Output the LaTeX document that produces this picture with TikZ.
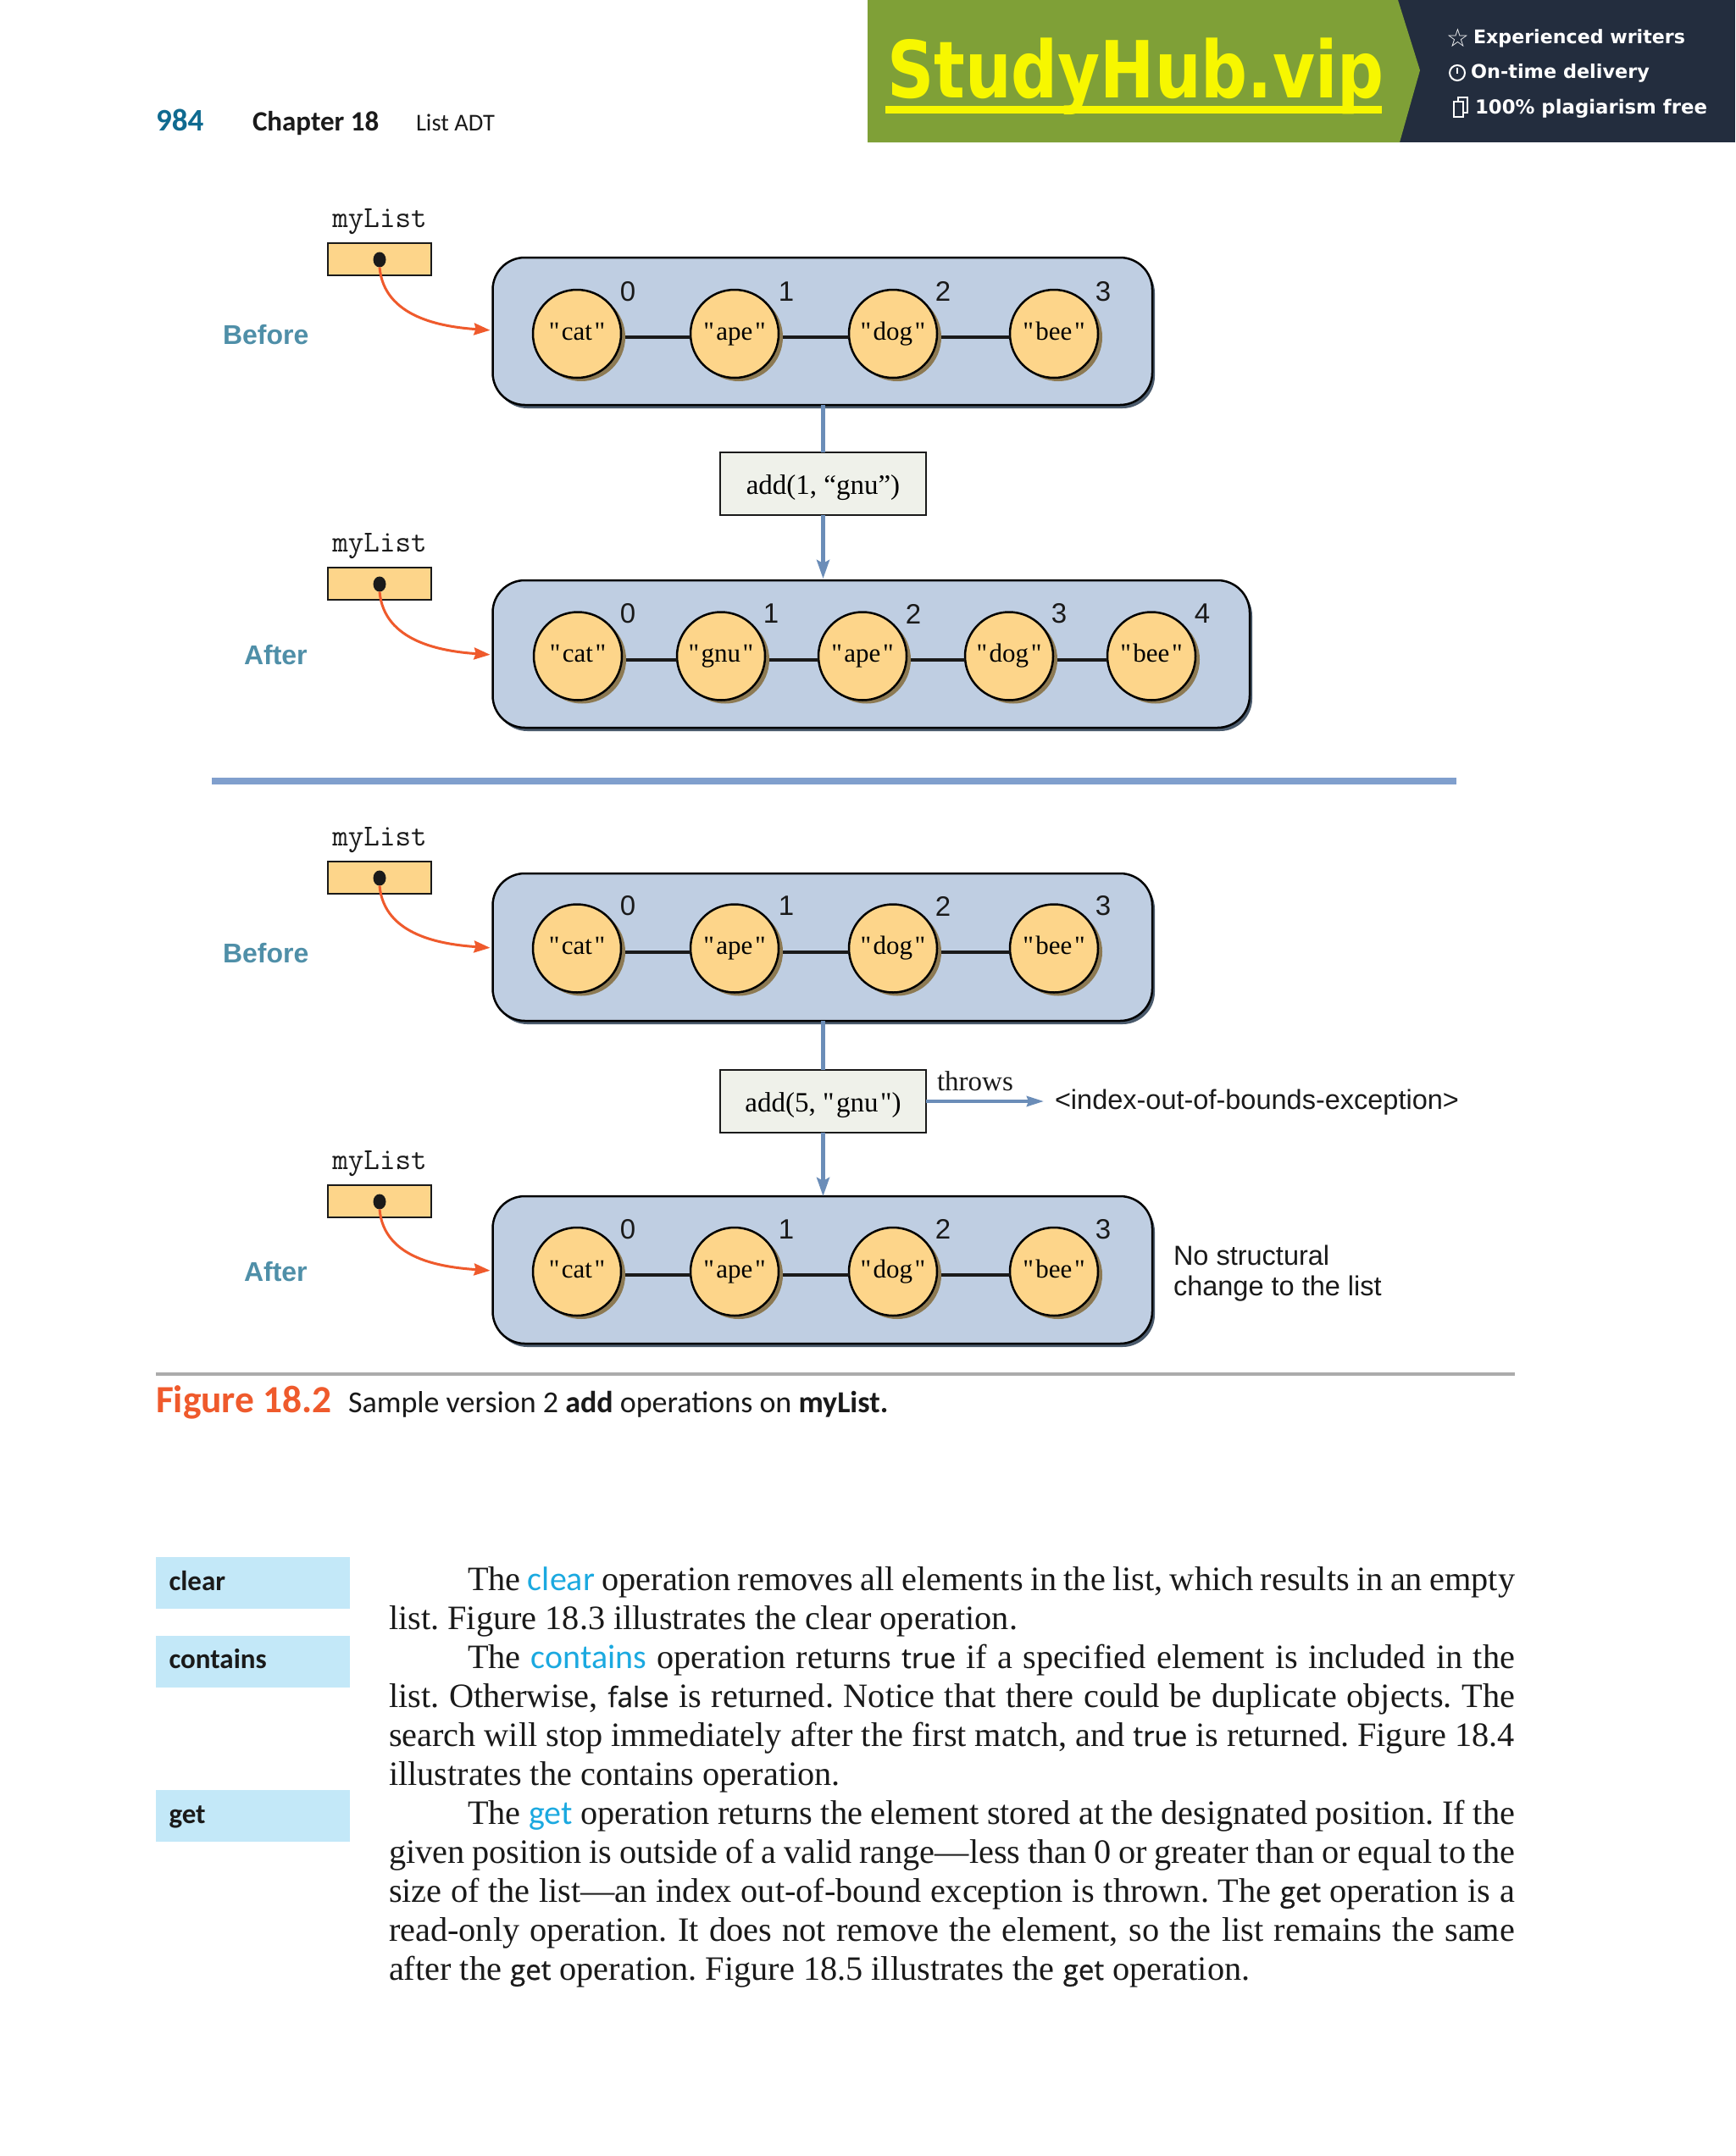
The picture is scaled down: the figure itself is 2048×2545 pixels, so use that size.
\documentclass[tikz,border=0pt]{standalone}
\usepackage{fontspec}
\usepackage{graphicx}
\usetikzlibrary{arrows.meta,shadows}
\newfontfamily\srf{Liberation Serif}
\newfontfamily\hlv{Liberation Sans}
\newfontfamily\crl{Carlito}
\newfontfamily\opn[FakeBold=0.5]{Open Sans}
\newfontfamily\dvb{DejaVu Sans Bold}
\newfontfamily\dvs{DejaVu Sans}
\newcommand\fsz[1]{\fontsize{#1}{#1}\selectfont}
\definecolor{boxfill}{HTML}{FDD58A}
\definecolor{listfill}{HTML}{BFCEE2}
\definecolor{opfill}{HTML}{EFF1EA}
\definecolor{flowblue}{HTML}{6B8DB8}
\definecolor{divblue}{HTML}{809FCD}
\definecolor{ptrred}{HTML}{EF5A2C}
\definecolor{tealtxt}{HTML}{4F8FA8}
\definecolor{keyblue}{HTML}{1BA9E0}
\definecolor{sidebar}{HTML}{C3E8F8}
\definecolor{ink}{HTML}{1A1A1A}
\definecolor{circshadow}{HTML}{8D7A53}
\definecolor{listshadow}{HTML}{4A5A6C}
\definecolor{bannergreen}{HTML}{7FA037}
\definecolor{bannerdark}{HTML}{232D3E}
\definecolor{bannerye}{HTML}{F7F700}
\definecolor{pagenum}{HTML}{0F6A90}
\tikzset{
  x=1pt,y=-1pt,
  txt/.style={inner sep=0pt,outer sep=0pt,text=ink,anchor=base west},
  elem/.style={circle,draw=black,line width=2.5pt,fill=boxfill,minimum size=104pt,inner sep=0pt,outer sep=0pt,
     text height=14pt,text depth=0pt,font=\srf\fsz{31},
     drop shadow={shadow xshift=5pt,shadow yshift=-4pt,opacity=1,fill=circshadow}},
  listbox/.style={rectangle,draw=black,line width=2.5pt,fill=listfill,rounded corners=38pt,anchor=north west,
     minimum height=174pt,inner sep=0pt,outer sep=0pt,
     drop shadow={shadow xshift=3pt,shadow yshift=-4pt,opacity=1,fill=listshadow}},
  varbox/.style={rectangle,draw=ink,line width=2.5pt,fill=boxfill,minimum width=122pt,minimum height=38pt,anchor=north west,inner sep=0pt,outer sep=0pt},
  dotnode/.style={ellipse,fill=ink,inner sep=0pt,minimum width=15pt,minimum height=18pt,outer sep=0pt},
  opbox/.style={rectangle,draw=ink,line width=2.5pt,fill=opfill,minimum width=243pt,minimum height=74pt,inner sep=0pt,outer sep=0pt,
     font=\srf\fsz{33},text height=24pt,text depth=0pt},
  ptr/.style={draw=ptrred,line width=3pt,-{Stealth[length=19pt,width=14pt,inset=2pt]}},
  flow/.style={draw=flowblue,line width=5pt},
  flowtip/.style={flow,-{Stealth[length=22pt,width=15pt,inset=4pt]}},
  linkline/.style={draw=ink,line width=4pt},
  sidebox/.style={rectangle,fill=sidebar,minimum width=229pt,minimum height=61pt,anchor=north west,inner sep=0pt,outer sep=0pt},
  idx/.style={inner sep=0pt,outer sep=0pt,text=ink,font=\hlv\fsz{33}},
}
\usetikzlibrary{shapes.geometric}
% variable box, its label and pointer: id, box top, label, label x, label baseline, tip y
\newcommand\vargrp[6]{%
  \node[txt,anchor=base] (#1name) at (448,#2-19) {\ttfamily\fsz{36}myList};
  \node[varbox] (#1var) at (387,#2) {};
  \node[dotnode] (#1dot) at (448,#2+19.5) {};
  \node[txt] (#1lab) at (#4,#5+1) {\hlv\bfseries\fsz{32}\textcolor{tealtxt}{#3}};
  \coordinate (#1tip) at (581.5,#6);
  \draw[ptr,shorten >=3pt] (#1dot.south) to[out=-85,in=176] (#1tip);
}
\newcommand\lst[3]{\node[listbox,minimum width=#3-581.5] (#1) at (581.5,#2) {};}
% id, number, centre x, centre y, word, index x, index label
\newcommand\elt[7]{%
  \node[elem] (#1e#2) at (#3,#4) {"\kern2.5pt#5\kern2.5pt"};
  \node[idx] (#1i#2) at (#6,#4-50) {#7};
}
\newcommand\lnk[3]{\draw[linkline] ([xshift=5pt,yshift=-4pt]#1e#2.east) -- ([yshift=-4pt]#1e#3.west);}
\newcommand\fourlist[3]{% id, top, centre y
  \lst{#1}{#2}{1360}
  \elt{#1}{0}{681}{#3}{cat}{741}{0}
  \elt{#1}{1}{867}{#3}{ape}{928}{1}
  \elt{#1}{2}{1054}{#3}{dog}{1113}{2}
  \elt{#1}{3}{1244}{#3}{bee}{1302}{3}
  \lnk{#1}{0}{1}\lnk{#1}{1}{2}\lnk{#1}{2}{3}
}
\newcommand\bodyfont{\srf\fsz{40.3}\frenchspacing}
\newcommand\bodyline[5]{\node[txt] (#1) at (#2,#3) {\bodyfont\hbox to #4pt{\spaceskip=.25em plus 1fil minus .25em\relax #5}};}
\newcommand\cdw[1]{{\opn\fsz{33}#1}}
\newcommand\kwd[1]{\textcolor{keyblue}{\crl\fsz{40}#1}}
\begin{document}
\begin{tikzpicture}
\useasboundingbox (0,0) rectangle (2048,2545);
\fill[white] (0,0) rectangle (2048,2545);

% banner
\fill[bannerdark] (1640,0) rectangle (2048,168);
\fill[bannergreen] (1024,0) -- (1650,0) -- (1676,83) -- (1652,168) -- (1024,168) -- cycle;
\node[txt,text=bannerye] (brand) at (1047,116) {\dvb\fsz{93}\scalebox{.826}[1]{StudyHub.vip}};
\fill[bannerye] (1045,125) rectangle (1631,134);
\node[txt,text=white] (b1) at (1739,52) {\dvb\fsz{24}\resizebox{250pt}{!}{Experienced writers}};
\node[txt,text=white] (b2) at (1736,93) {\dvb\fsz{24}\resizebox{211pt}{!}{On-time delivery}};
\node[txt,text=white] (b3) at (1741,135) {\dvb\fsz{24}\resizebox{274pt}{!}{100\% plagiarism free}};
\node[inner sep=0pt,text=white,font=\dvs\fsz{30}] (star) at (1721,45) {☆};
\draw[white,line width=2pt] (1720,86) circle (9);
\draw[white,line width=2pt] (1720,80) -- (1720,87);
\draw[white,line width=2pt] (1716,120) rectangle (1727,138);
\draw[white,line width=2pt] (1721,120) -- (1721,115) -- (1732,115) -- (1732,133) -- (1727,133);

% running head
\node[txt,text=pagenum] (pg) at (184,154) {\crl\bfseries\fsz{37}984};
\node[txt] (ch) at (298,154) {\crl\bfseries\fsz{33}Chapter 18};
\node[txt] (ad) at (491,154) {\crl\fsz{28.5}List ADT};

% first example
\fourlist{la}{304}{394}
\vargrp{va}{287}{Before}{263}{405}{390}

\node[opbox] (opa) at (971.5,571) {add(1, “gnu”)};

\lst{lb}{685}{1475}
\elt{lb}{0}{682}{774.5}{cat}{741}{0}
\elt{lb}{1}{851}{774.5}{gnu}{910}{1}
\elt{lb}{2}{1018}{774.5}{ape}{1078}{2}
\elt{lb}{3}{1191}{774.5}{dog}{1250}{3}
\elt{lb}{4}{1359}{774.5}{bee}{1419}{4}
\lnk{lb}{0}{1}\lnk{lb}{1}{2}\lnk{lb}{2}{3}\lnk{lb}{3}{4}
\vargrp{vb}{670}{After}{288}{783}{773}

\draw[flow] (opa.north |- la.south) -- (opa.north);
\coordinate (opaend) at (opa.south |- lb.north);
\draw[flowtip,shorten >=2pt] (opa.south) -- (opaend);

% divider
\fill[divblue] (250,918) rectangle (1719,926);

% second example
\fourlist{lc}{1031}{1119.5}
\vargrp{vc}{1017}{Before}{263}{1135}{1119}

\node[opbox] (opb) at (971.5,1300) {add(5, "\kern2.5pt gnu\kern2.5pt")};
\node[txt] (throws) at (1106,1287) {\srf\fsz{33}throws};
\node[txt] (exc) at (1245,1309.5) {\hlv\fsz{32.5}<index-out-of-bounds-exception>};
\coordinate (exctip) at (1232,1300);
\draw[flowblue,line width=4pt,-{Stealth[length=20pt,width=12pt,inset=2pt]}] (opb.east) -- (exctip);

\fourlist{ld}{1412}{1501}
\vargrp{vd}{1399}{After}{288}{1511}{1500}
\node[txt] (ns1) at (1385,1493) {\hlv\fsz{32.5}No structural};
\node[txt] (ns2) at (1385,1529) {\hlv\fsz{32.5}change to the list};

\draw[flow] (opb.north |- lc.south) -- (opb.north);
\coordinate (opbend) at (opb.south |- ld.north);
\draw[flowtip] (opb.south) -- (opbend);

% caption
\fill[black!33] (184,1620) rectangle (1788,1624);
\node[txt,text=ptrred] (fig) at (184,1667) {\crl\bfseries\fsz{45.4}Figure 18.2};
\node[txt] (cap) at (411,1667) {\crl\fsz{36}Sample version 2 \textbf{add} operations on \textbf{myList.}};

% sidebar
\node[sidebox] (sa) at (183.5,1838) {};
\node[sidebox] (sb) at (183.5,1931) {};
\node[sidebox] (sc) at (183.5,2113) {};
\node[txt] (ta) at (199.5,1877) {\crl\bfseries\fsz{33}clear};
\node[txt] (tb) at (199.5,1969) {\crl\bfseries\fsz{33}contains};
\node[txt] (tc) at (199.5,2152) {\crl\bfseries\fsz{33}get};

% body text
\bodyline{t1}{552}{1877}{1236}{The \kwd{clear} operation removes all elements in the list, which results in an empty}
\node[txt] (t2) at (459,1923) {\bodyfont list. Figure 18.3 illustrates the clear operation.};
\bodyline{t3}{552}{1969}{1236}{The \kwd{contains} operation returns \cdw{true} if a specified element is included in the}
\bodyline{t4}{459}{2015}{1329}{list. Otherwise, \cdw{false} is returned. Notice that there could be duplicate objects. The}
\bodyline{t5}{459}{2061}{1329}{search will stop immediately after the first match, and \cdw{true} is returned. Figure 18.4}
\node[txt] (t6) at (459,2107) {\bodyfont illustrates the contains operation.};
\bodyline{t7}{552}{2153}{1236}{The \kwd{get} operation returns the element stored at the designated position. If the}
\bodyline{t8}{459}{2199}{1329}{given position is outside of a valid range—less than 0 or greater than or equal to the}
\bodyline{t9}{459}{2245}{1329}{size of the list—an index out-of-bound exception is thrown. The \cdw{get} operation is a}
\bodyline{t10}{459}{2291}{1329}{read-only operation. It does not remove the element, so the list remains the same}
\node[txt] (t11) at (459,2337) {\bodyfont after the \cdw{get} operation. Figure 18.5 illustrates the \cdw{get} operation.};
\end{tikzpicture}
\end{document}
